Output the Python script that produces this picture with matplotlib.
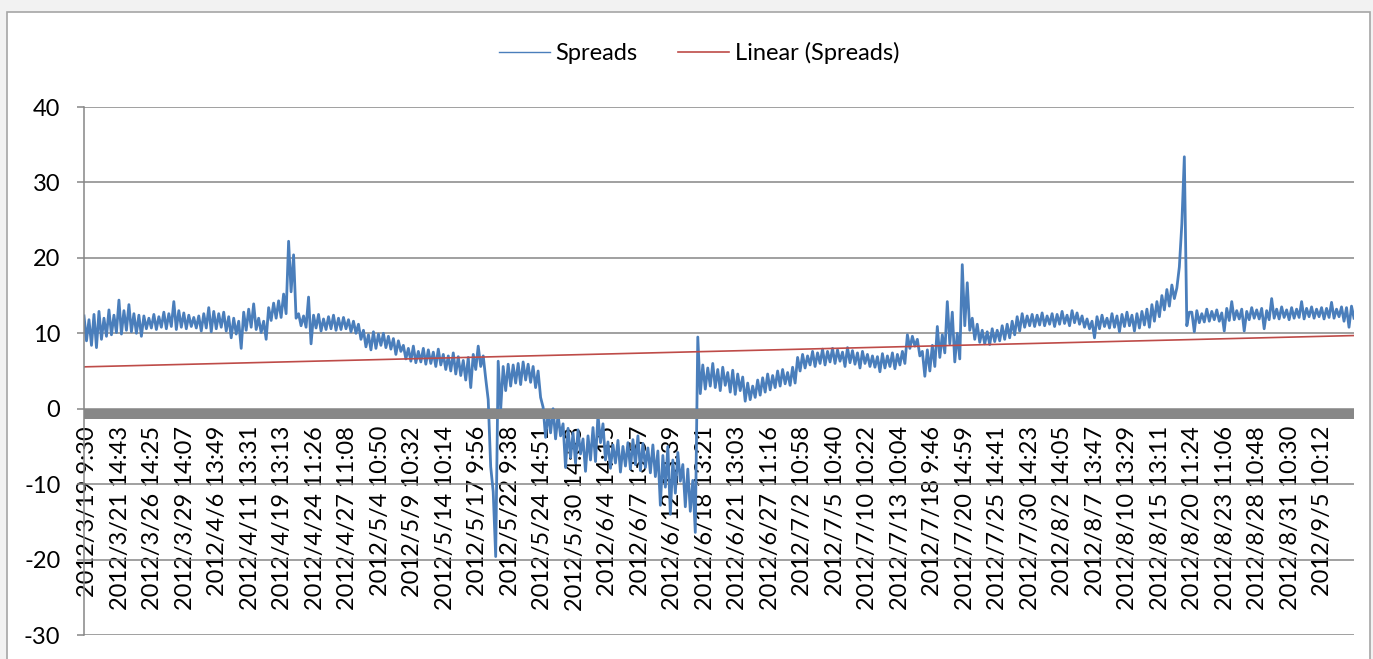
import numpy as np
import matplotlib.pyplot as plt
from matplotlib.patches import Rectangle

plt.rcParams['font.family'] = ['Lato', 'DejaVu Sans']
plt.rcParams['axes.unicode_minus'] = False

# category labels shown on the x axis (every ~700th minute bar)
tick_labels = [
    '2012/3/19 9:30', '2012/3/21 14:43', '2012/3/26 14:25', '2012/3/29 14:07',
    '2012/4/6 13:49', '2012/4/11 13:31', '2012/4/19 13:13', '2012/4/24 11:26',
    '2012/4/27 11:08', '2012/5/4 10:50', '2012/5/9 10:32', '2012/5/14 10:14',
    '2012/5/17 9:56', '2012/5/22 9:38', '2012/5/24 14:51', '2012/5/30 14:33',
    '2012/6/4 14:15', '2012/6/7 13:57', '2012/6/12 13:39', '2012/6/18 13:21',
    '2012/6/21 13:03', '2012/6/27 11:16', '2012/7/2 10:58', '2012/7/5 10:40',
    '2012/7/10 10:22', '2012/7/13 10:04', '2012/7/18 9:46', '2012/7/20 14:59',
    '2012/7/25 14:41', '2012/7/30 14:23', '2012/8/2 14:05', '2012/8/7 13:47',
    '2012/8/10 13:29', '2012/8/15 13:11', '2012/8/20 11:24', '2012/8/23 11:06',
    '2012/8/28 10:48', '2012/8/31 10:30', '2012/9/5 10:12',
]

# spreads (high/low pairs, evenly spaced along the axis)
spreads_mar_apr = [
    12.3, 9.0, 11.8, 8.4, 12.5, 8.1, 12.9, 9.2, 12.0, 9.6, 13.1, 9.8, 12.4, 10.1,
    14.4, 9.9, 13.0, 10.4, 13.8, 10.2, 12.6, 10.0,
    12.4, 9.6, 12.3, 10.6, 12.0, 10.7, 12.5, 10.5, 12.2, 10.8, 12.8, 10.6, 12.6, 10.9,
    14.2, 10.5, 13.0, 10.8, 12.7, 10.6, 12.4, 10.9, 12.1, 10.7, 12.3, 10.3, 12.6, 10.7,
    13.4, 10.2,
]
spreads_apr = [
    12.9, 10.6, 12.6, 10.8, 12.8, 10.3, 12.2, 9.4, 12.0, 9.9, 11.6, 8.0, 12.8, 10.4,
    13.2, 10.8, 13.9, 10.5, 12.0, 10.1, 11.6, 9.2,
    13.4, 11.7, 14.0, 12.0, 14.3, 12.1, 15.2, 12.6, 22.2, 15.5, 20.4, 12.0,
    12.6, 11.0, 12.3, 10.8, 14.8, 8.6, 12.4, 10.7, 12.5, 10.3, 11.9, 10.5, 12.2, 10.6,
    12.4, 10.4, 12.0, 10.5, 12.1, 10.6,
]
spreads_may = [
    11.8, 10.2, 11.6, 10.0, 11.2, 9.2, 10.4, 8.2, 9.8, 7.8, 10.2, 8.0, 9.9, 8.4,
    10.0, 8.1, 9.6, 7.9, 9.3, 7.2, 9.0, 7.6,
    8.4, 6.6, 8.0, 6.3, 8.3, 6.1, 7.6, 6.2, 8.0, 5.9, 7.8, 6.0, 7.5, 5.6, 7.9, 5.8,
    7.2, 5.2, 7.0, 5.0, 7.4, 4.6, 6.9, 4.4, 6.4, 3.8, 6.8, 2.8, 7.2, 5.2, 8.3, 5.6,
    7.0, 4.0,
    1.2, -7.7, -11.0, -19.6,
    6.3, -0.1, 5.6, 2.4, 5.9, 3.0, 5.8, 3.4, 6.0, 3.2, 6.2, 3.8, 5.9, 3.5, 5.6, 2.8,
    5.0, 1.5,
]
spreads_jun = [
    0.2, -3.8, -0.6, -3.2, 0.0, -4.0, -0.8, -3.6, -2.0, -7.8, -2.6, -6.5, -3.2, -7.2,
    -2.8, -6.0, -4.0, -8.3, -3.6, -6.8, -2.5, -7.0, -0.8, -4.5, -2.0, -6.8,
    -4.4, -7.9, -4.8, -7.2, -4.2, -8.4, -5.0, -7.6, -4.5, -8.0, -4.1, -7.4, -3.6, -8.2,
    -4.6, -7.8, -5.2, -8.5, -4.8, -9.0,
    -5.6, -12.8, -6.2, -10.4, -5.0, -14.0, -6.8, -11.2, -5.8, -9.6, -7.4, -13.0,
    -8.0, -13.6, -9.5, -16.4,
]
spreads_jun_jul = [
    9.5, 2.0,
    5.8, 2.6, 5.4, 3.0, 6.0, 2.8, 5.2, 2.4, 5.5, 3.1, 4.8, 2.2, 5.1, 1.9, 4.6, 2.4,
    4.2, 1.0,
    3.4, 1.2, 3.0, 1.5, 3.8, 1.8, 4.1, 2.2, 4.6, 2.5, 4.4, 2.8, 5.0, 3.0, 5.2, 3.3,
    4.8, 3.1, 5.5, 3.4,
    6.8, 5.0, 7.2, 5.4, 7.0, 5.8, 7.6, 5.6, 7.4, 6.0, 7.9, 5.8, 7.6, 6.2, 8.0, 6.0,
    7.8, 6.3, 7.5, 5.6, 8.1, 6.1, 7.7, 5.9, 7.4, 5.4, 7.6, 6.0, 7.2, 5.6, 7.0, 5.5,
    6.9, 4.9, 7.3, 5.4, 7.0, 5.6, 7.4, 5.3, 7.2, 5.8, 7.6, 6.0,
]
spreads_jul_aug = [
    9.8, 8.0, 9.6, 8.3, 9.2, 7.0, 7.6, 4.3, 7.8, 5.0, 8.4, 5.6, 10.9, 6.8, 9.8, 7.4,
    14.2, 8.6, 12.8, 6.2, 10.0, 6.6, 19.1, 11.0, 16.7, 10.4, 12.0, 9.2, 11.2, 8.8,
    10.4, 8.6, 10.2, 8.5, 10.6, 8.9, 10.4, 9.0, 11.0, 9.2,
    11.2, 9.4, 11.6, 9.8, 12.2, 10.3, 12.6, 10.8, 12.3, 11.0, 12.5, 10.9, 12.4, 11.1,
    12.7, 11.0, 12.3, 11.2, 12.6, 10.9, 12.5, 11.2, 12.9, 11.3, 12.4, 11.0, 13.0, 11.4,
    12.7, 11.2, 12.3, 10.8, 11.9, 10.6, 11.6, 9.4, 12.2, 10.6, 12.4, 10.9, 12.0, 10.7,
]
spreads_aug_sep = [
    12.6, 10.8, 12.3, 10.2, 12.5, 10.9, 12.8, 11.0, 12.4, 10.3, 12.6, 10.7, 12.9, 11.1,
    13.2, 10.8, 13.8, 11.6, 14.2, 12.2, 15.0, 13.1, 15.8, 13.6, 16.4, 14.6, 16.0, 18.8,
    24.5, 33.4, 11.0, 12.8,
    12.8, 10.2, 13.0, 11.4, 12.6, 11.5, 13.2, 11.6, 12.9, 11.8, 13.1, 11.6, 12.7, 10.3,
    13.3, 11.7, 14.2, 11.8, 13.0, 11.9, 13.2, 10.3, 12.9, 11.8, 13.4, 12.0, 13.1, 11.9,
    13.3, 10.6, 13.0, 11.8, 14.6, 12.0, 13.2, 11.9, 13.5, 12.1, 13.1, 11.8, 13.4, 12.0,
    13.2, 12.1, 14.2, 11.9, 13.3, 12.2, 13.5, 12.0, 13.2, 12.2, 13.4, 11.9, 13.3, 12.1,
    14.1, 12.0, 13.2, 12.2, 13.5, 11.6, 13.4, 10.8, 13.6, 12.0,
]
spreads = (spreads_mar_apr + spreads_apr + spreads_may + spreads_jun
           + spreads_jun_jul + spreads_jul_aug + spreads_aug_sep)

# excel linear trendline, ends
trend_start = 5.55
trend_end = 9.7

W, H = 1373, 659
fig = plt.figure(figsize=(W / 100, H / 100), dpi=100, facecolor='#f2f2f2')
fig.patches.append(Rectangle((7 / W, -0.01), (1370 - 7) / W, (H - 12) / H + 0.01,
                             transform=fig.transFigure, facecolor='white',
                             edgecolor='#a6a6a6', lw=1.2, zorder=-10))

ax = fig.add_axes([84 / W, 24 / H, 1270 / W, 528 / H])
ax.set_facecolor('none')

x0, x1 = -0.12, 38.96
x = np.linspace(x0, x1, len(spreads))
ax.plot(x, spreads, color='#4a7ebb', lw=2.0, label='Spreads', zorder=2)
ax.plot([x0, x1], [trend_start, trend_end], color='#be4b48', lw=1.2,
        label='Linear (Spreads)', zorder=2.2)

ax.set_xlim(x0, x1)
ax.set_ylim(-30, 40)
ax.set_yticks(range(-30, 41, 10))
ax.yaxis.grid(True, color='#868686', lw=1.1)
ax.set_axisbelow(True)

for s in ['top', 'right']:
    ax.spines[s].set_visible(False)
ax.spines['left'].set_color('#868686')
ax.spines['left'].set_linewidth(1.1)
ax.spines['bottom'].set_position(('data', -0.65))
ax.spines['bottom'].set_color('#878787')
ax.spines['bottom'].set_linewidth(7.2)
ax.spines['bottom'].set_capstyle('butt')

ax.set_xticks(np.arange(len(tick_labels)), tick_labels, rotation=90)
ax.tick_params(axis='x', length=0, pad=9, labelsize=17)
ax.tick_params(axis='y', length=5, width=1.1, color='#868686', pad=12, labelsize=17)

leg = fig.legend(loc='center', bbox_to_anchor=(699 / W, 1 - 53 / H), ncol=2,
                 frameon=False, fontsize=17, handlelength=2.16, handletextpad=0.25,
                 columnspacing=1.7)
leg.legend_handles[0].set_linewidth(1.0)

fig.savefig('out.png', dpi=100, facecolor=fig.get_facecolor())
